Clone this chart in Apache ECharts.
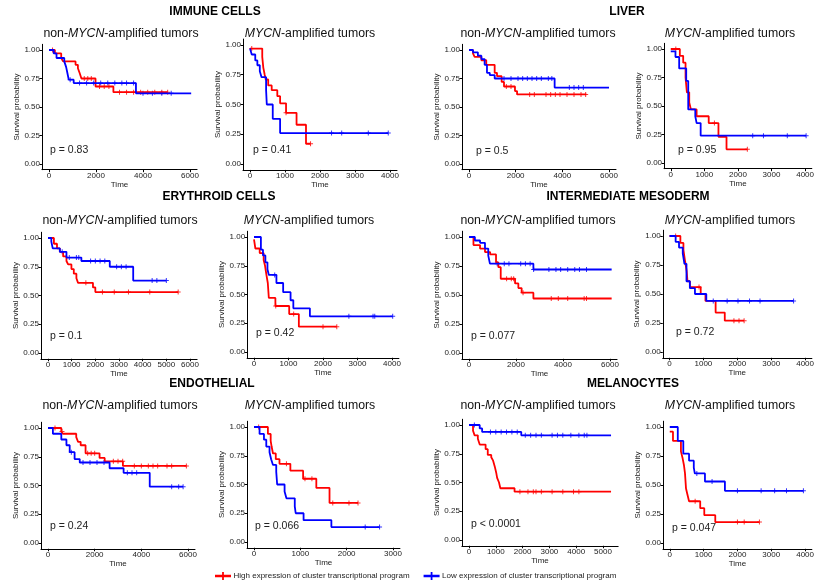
<!DOCTYPE html>
<html><head><meta charset="utf-8">
<script src="https://cdn.jsdelivr.net/npm/echarts@6/dist/echarts.min.js"></script>
<style>html,body{margin:0;padding:0;background:#fff}#c{width:817px;height:588px}</style>
</head><body><div id="c"></div>
<script>
// ---------- DATA: [time, survival] step points and censoring times ----------
const immuneNonHigh = [[0,1],[250,0.97],[520,0.93],[600,0.90],[1130,0.87],[1230,0.84],[1300,0.80],[1380,0.75],[1980,0.68],[2740,0.63],[5050,0.63]];
const immuneNonHighCens = [150,1500,1650,1800,2150,2350,2550,3000,3300,3600,3900,4200,4500,4800,5050];
const immuneNonLow = [[0,1],[200,0.97],[320,0.93],[650,0.90],[730,0.85],[780,0.80],[840,0.74],[1050,0.71],[3700,0.62],[6050,0.62]];
const immuneNonLowCens = [900,1300,1600,1900,2200,2500,2800,3100,3300,3600,4000,4400,4800,5200];

const immuneAmpHigh = [[0,0.97],[350,0.90],[380,0.81],[420,0.75],[450,0.71],[520,0.66],[620,0.62],[780,0.57],[860,0.51],[1030,0.43],[1330,0.33],[1600,0.17],[1730,0.17]];
const immuneAmpHighCens = [50,1030,1730];
const immuneAmpLow = [[0,0.97],[50,0.92],[150,0.87],[210,0.83],[280,0.78],[330,0.73],[460,0.62],[480,0.50],[650,0.38],[860,0.26],[3950,0.26]];
const immuneAmpLowCens = [2330,2620,3380,3950];

const liverNonHigh = [[0,1],[170,0.97],[240,0.94],[530,0.91],[740,0.87],[1100,0.80],[1200,0.77],[1400,0.72],[1500,0.68],[1970,0.64],[2060,0.61],[5030,0.61]];
const liverNonHighCens = [1600,1800,2600,2800,3300,3500,3700,3900,4200,4500,4800,5000];
const liverNonLow = [[0,1],[170,0.98],[380,0.95],[530,0.92],[670,0.87],[770,0.80],[890,0.78],[1100,0.75],[3670,0.67],[6000,0.67]];
const liverNonLowCens = [1500,1800,2100,2300,2500,2700,2900,3100,3400,3550,4300,4500,4700,4900];

const liverAmpHigh = [[0,1],[270,0.94],[370,0.88],[440,0.75],[480,0.62],[550,0.53],[600,0.47],[770,0.41],[1130,0.35],[1420,0.23],[1660,0.12],[2280,0.12]];
const liverAmpHighCens = [150,1300,2280];
const liverAmpLow = [[0,0.98],[140,0.93],[250,0.83],[460,0.72],[520,0.47],[730,0.41],[770,0.35],[890,0.24],[4030,0.24]];
const liverAmpLowCens = [2440,2760,3470,4030];

const erythNonHigh = [[0,1],[250,0.95],[380,0.91],[500,0.88],[640,0.84],[780,0.80],[850,0.77],[990,0.73],[1090,0.69],[1200,0.65],[1270,0.61],[1900,0.57],[2000,0.53],[5500,0.53]];
const erythNonHighCens = [1600,2300,2800,3400,4300,5500];
const erythNonLow = [[0,1],[140,0.97],[200,0.91],[500,0.88],[780,0.83],[1410,0.80],[2610,0.75],[3600,0.63],[5000,0.63]];
const erythNonLowCens = [600,900,1200,1300,1800,2000,2200,2400,2900,3100,3300,4400,4600,5000];

const erythAmpHigh = [[0,0.98],[40,0.90],[165,0.86],[280,0.80],[320,0.75],[360,0.67],[400,0.60],[430,0.47],[620,0.40],[1020,0.33],[1300,0.22],[2400,0.22]];
const erythAmpHighCens = [630,1150,2000,2400];
const erythAmpLow = [[0,1],[200,0.89],[260,0.84],[330,0.78],[390,0.72],[430,0.67],[650,0.60],[845,0.52],[1060,0.45],[1140,0.38],[1620,0.31],[4020,0.31]];
const erythAmpLowCens = [600,2750,3450,3500,4020];

const mesoNonHigh = [[0,1],[190,0.93],[470,0.90],[680,0.87],[900,0.85],[1150,0.78],[1250,0.74],[1350,0.64],[1960,0.60],[2100,0.56],[2240,0.52],[2740,0.47],[6070,0.47]];
const mesoNonHighCens = [1600,1800,1900,2300,3500,3800,4200,4900,5000];
const mesoNonLow = [[0,1],[250,0.97],[470,0.95],[680,0.90],[820,0.84],[890,0.77],[2740,0.72],[6070,0.72]];
const mesoNonLowCens = [1200,1500,1700,2200,2400,2600,2750,3400,3700,3900,4200,4500,4700,5000];

const mesoAmpHigh = [[0,1],[320,0.94],[410,0.88],[460,0.78],[505,0.70],[530,0.61],[600,0.56],[920,0.50],[1060,0.44],[1360,0.34],[1630,0.27],[2200,0.27]];
const mesoAmpHighCens = [180,870,1900,2050,2200];
const mesoAmpLow = [[0,1],[180,0.95],[280,0.90],[390,0.85],[440,0.76],[500,0.61],[600,0.55],[750,0.50],[1085,0.44],[3660,0.44]];
const mesoAmpLowCens = [1290,1700,2020,2360,2670,3660];

const endoNonHigh = [[0,1],[570,0.97],[640,0.95],[1210,0.92],[1290,0.88],[1400,0.85],[1610,0.78],[2210,0.74],[2430,0.71],[3210,0.67],[5930,0.67]];
const endoNonHighCens = [300,600,1700,1850,2000,2800,3000,3200,3700,4000,4300,4500,4700,5100,5300,5930];
const endoNonLow = [[0,1],[210,0.95],[570,0.90],[790,0.85],[930,0.79],[1140,0.73],[1360,0.70],[2640,0.65],[3240,0.61],[4360,0.49],[5790,0.49]];
const endoNonLowCens = [1000,1500,1800,2100,2400,3400,3600,3800,5300,5600,5790];

const endoAmpHigh = [[0,1],[300,0.94],[360,0.88],[380,0.83],[410,0.77],[470,0.72],[550,0.68],[785,0.62],[1060,0.55],[1345,0.47],[1630,0.34],[2245,0.34]];
const endoAmpHighCens = [100,700,1100,1250,1700,2050,2245];
const endoAmpLow = [[0,1],[120,0.94],[215,0.89],[265,0.83],[335,0.78],[370,0.72],[410,0.67],[480,0.61],[500,0.50],[660,0.44],[700,0.38],[880,0.31],[900,0.25],[1070,0.19],[1670,0.13],[2710,0.13]];
const endoAmpLowCens = [2400,2710];

const melaNonHigh = [[0,1],[150,0.95],[210,0.91],[330,0.88],[400,0.83],[620,0.79],[700,0.74],[830,0.72],[900,0.69],[960,0.64],[1020,0.58],[1050,0.54],[1120,0.50],[1170,0.45],[1700,0.42],[5300,0.42]];
const melaNonHighCens = [1900,2200,2400,2500,2700,3100,3500,3900,4100];
const melaNonLow = [[0,1],[400,0.97],[490,0.94],[1950,0.91],[5300,0.91]];
const melaNonLowCens = [200,800,1000,1200,1400,1600,1800,2100,2300,2500,2700,3100,3300,3500,3800,4100,4300,4400];

const melaAmpHigh = [[0,0.96],[95,0.88],[330,0.79],[380,0.73],[420,0.67],[450,0.60],[480,0.47],[520,0.42],[570,0.36],[900,0.30],[1020,0.24],[1345,0.18],[2650,0.18]];
const melaAmpHighCens = [750,2000,2200,2650];
const melaAmpLow = [[0,1],[237,0.88],[400,0.77],[570,0.71],[710,0.65],[740,0.60],[1040,0.53],[1630,0.45],[3950,0.45]];
const melaAmpLowCens = [800,1250,2000,2700,3100,3450,3950];

const headings = ['IMMUNE CELLS','LIVER','ERYTHROID CELLS','INTERMEDIATE MESODERM','ENDOTHELIAL','MELANOCYTES'];
const pValues = ['p = 0.83','p = 0.41','p = 0.5','p = 0.95','p = 0.1','p = 0.42','p = 0.077','p = 0.72','p = 0.24','p = 0.066','p < 0.0001','p = 0.047'];
const yTicks = [0, 0.25, 0.5, 0.75, 1];
const highName = 'High expression of cluster transcriptional program';
const lowName = 'Low expression of cluster transcriptional program';

// ---------- LAYOUT ----------
const panels = [
  {amp:false, M:6000, step:2000, px0:49,  pxM:190, py1:50,  py0:164, h:immuneNonHigh, hc:immuneNonHighCens, l:immuneNonLow, lc:immuneNonLowCens, sx:121, sy:35, px:50, py:151},
  {amp:true,  M:4000, step:1000, px0:250, pxM:390, py1:45,  py0:164, h:immuneAmpHigh, hc:immuneAmpHighCens, l:immuneAmpLow, lc:immuneAmpLowCens, sx:310, sy:35, px:253, py:151},
  {amp:false, M:6000, step:2000, px0:469, pxM:609, py1:50,  py0:164, h:liverNonHigh, hc:liverNonHighCens, l:liverNonLow, lc:liverNonLowCens, sx:538, sy:35, px:476, py:152},
  {amp:true,  M:4000, step:1000, px0:671, pxM:810, py1:49,  py0:163, h:liverAmpHigh, hc:liverAmpHighCens, l:liverAmpLow, lc:liverAmpLowCens, sx:730, sy:35, px:678, py:151},
  {amp:false, M:6000, step:1000, px0:48,  pxM:190, py1:238, py0:353, h:erythNonHigh, hc:erythNonHighCens, l:erythNonLow, lc:erythNonLowCens, sx:120, sy:222, px:50, py:337},
  {amp:true,  M:4000, step:1000, px0:254, pxM:392, py1:237, py0:352, h:erythAmpHigh, hc:erythAmpHighCens, l:erythAmpLow, lc:erythAmpLowCens, sx:309, sy:222, px:256, py:334},
  {amp:false, M:6000, step:2000, px0:469, pxM:610, py1:237, py0:353, h:mesoNonHigh, hc:mesoNonHighCens, l:mesoNonLow, lc:mesoNonLowCens, sx:538, sy:222, px:471, py:337},
  {amp:true,  M:4000, step:1000, px0:670, pxM:815, py1:236, py0:352, h:mesoAmpHigh, hc:mesoAmpHighCens, l:mesoAmpLow, lc:mesoAmpLowCens, sx:730, sy:222, px:676, py:333},
  {amp:false, M:6000, step:2000, px0:48,  pxM:188, py1:428, py0:543, h:endoNonHigh, hc:endoNonHighCens, l:endoNonLow, lc:endoNonLowCens, sx:120, sy:407, px:50, py:527},
  {amp:true,  M:3000, step:1000, px0:254, pxM:393, py1:427, py0:542, h:endoAmpHigh, hc:endoAmpHighCens, l:endoAmpLow, lc:endoAmpLowCens, sx:310, sy:407, px:255, py:527},
  {amp:false, M:5000, step:1000, px0:469, pxM:603, py1:425, py0:540, D:5300, h:melaNonHigh, hc:melaNonHighCens, l:melaNonLow, lc:melaNonLowCens, sx:538, sy:407, px:471, py:525},
  {amp:true,  M:4000, step:1000, px0:670, pxM:810, py1:427, py0:543, h:melaAmpHigh, hc:melaAmpHighCens, l:melaAmpLow, lc:melaAmpLowCens, sx:730, sy:407, px:672, py:529}
];
const headingPos = [[215,13],[627,13],[219,198],[628,198],[212,385],[633,385]];

const RED = '#ff0000', BLUE = '#0000ff', TXT = '#222222';
const FONT = '"Liberation Sans", Arial, sans-serif';
const plus = 'path://M4,0H6V4H10V6H6V10H4V6H0V4H4Z';

function survAt(curve, t) {
  let s = curve[0][1];
  for (const p of curve) { if (p[0] <= t) s = p[1]; }
  return s;
}

const grids = [], xAxes = [], yAxes = [], series = [], titles = [];
panels.forEach((p, i) => {
  const D = p.D || p.M;
  const xmin = -0.05 * D, xmax = 1.05 * D;
  const sc = (p.pxM - p.px0) / p.M;
  const left = p.px0 + xmin * sc, right = p.px0 + xmax * sc;
  const ysc = p.py0 - p.py1;
  const top = p.py1 - 0.05 * ysc;
  grids.push({left: left, top: top, width: right - left, height: 1.1 * ysc, containLabel: false});
  const xt = [];
  for (let v = 0; v <= p.M; v += p.step) xt.push(v);
  xAxes.push({
    type: 'value', gridIndex: i, min: xmin, max: xmax,
    axisLine: {show: true, onZero: false, lineStyle: {color: '#000', width: 1}},
    axisTick: {show: true, length: 2.5, customValues: xt, lineStyle: {color: '#000'}},
    axisLabel: {customValues: xt, fontSize: 8, color: TXT, margin: 2, fontFamily: FONT,
      formatter: v => String(Math.round(v))},
    splitLine: {show: false},
    name: 'Time', nameLocation: 'middle', nameGap: 11,
    nameTextStyle: {fontSize: 8, color: TXT, fontFamily: FONT}
  });
  yAxes.push({
    type: 'value', gridIndex: i, min: -0.05, max: 1.05,
    axisLine: {show: true, onZero: false, lineStyle: {color: '#000', width: 1}},
    axisTick: {show: true, length: 2.5, customValues: yTicks, lineStyle: {color: '#000'}},
    axisLabel: {customValues: yTicks, fontSize: 8, color: TXT, margin: 2, fontFamily: FONT,
      formatter: v => Number(v).toFixed(2)},
    splitLine: {show: false},
    name: 'Survival probability', nameLocation: 'middle', nameGap: 21,
    nameTextStyle: {fontSize: 8, color: TXT, fontFamily: FONT}
  });
  const mk = (name, color, curve, cens) => {
    series.push({
      type: 'line', name: name, xAxisIndex: i, yAxisIndex: i, step: 'end',
      data: curve, showSymbol: false, symbol: 'none',
      lineStyle: {color: color, width: 1.8}, itemStyle: {color: color},
      animation: false, silent: true
    });
    series.push({
      type: 'scatter', name: name, xAxisIndex: i, yAxisIndex: i,
      data: cens.map(t => [t, survAt(curve, t)]),
      symbol: plus, symbolSize: 5, itemStyle: {color: color},
      animation: false, silent: true
    });
  };
  mk(highName, RED, p.h, p.hc);
  mk(lowName, BLUE, p.l, p.lc);
  titles.push({
    text: p.amp ? '{i|MYCN}{n|-amplified tumors}' : '{n|non-}{i|MYCN}{n|-amplified tumors}',
    left: p.sx, top: p.sy - 7, textAlign: 'center', padding: 0,
    textStyle: {fontSize: 12.3, fontWeight: 'normal', color: '#111', fontFamily: FONT,
      rich: {n: {fontSize: 12.3, color: '#111', fontFamily: FONT},
             i: {fontSize: 12.3, color: '#111', fontStyle: 'italic', fontFamily: FONT}}}
  });
  titles.push({
    text: pValues[i], left: p.px, top: p.py - 6, padding: 0,
    textStyle: {fontSize: 10.5, fontWeight: 'normal', color: TXT, fontFamily: FONT}
  });
});
headings.forEach((h, k) => {
  titles.push({
    text: h, left: headingPos[k][0], top: headingPos[k][1] - 7, textAlign: 'center', padding: 0,
    textStyle: {fontSize: 12, fontWeight: 'bold', color: '#000', fontFamily: FONT}
  });
});

const legendIcon = 'path://M0,3H8V0H10V3H18V6H10V9H8V6H0Z';
const chart = echarts.init(document.getElementById('c'), null, {renderer: 'canvas'});
chart.setOption({
  backgroundColor: '#fff',
  animation: false,
  title: titles,
  grid: grids,
  xAxis: xAxes,
  yAxis: yAxes,
  legend: {
    left: 215, top: 572, padding: 0, itemWidth: 17, itemHeight: 8, itemGap: 14,
    selectedMode: false,
    textStyle: {fontSize: 8, color: TXT, fontFamily: FONT, padding: [0, 0, 0, -3]},
    data: [{name: highName, icon: legendIcon, itemStyle: {color: RED}},
           {name: lowName, icon: legendIcon, itemStyle: {color: BLUE}}]
  },
  series: series
});
</script></body></html>
